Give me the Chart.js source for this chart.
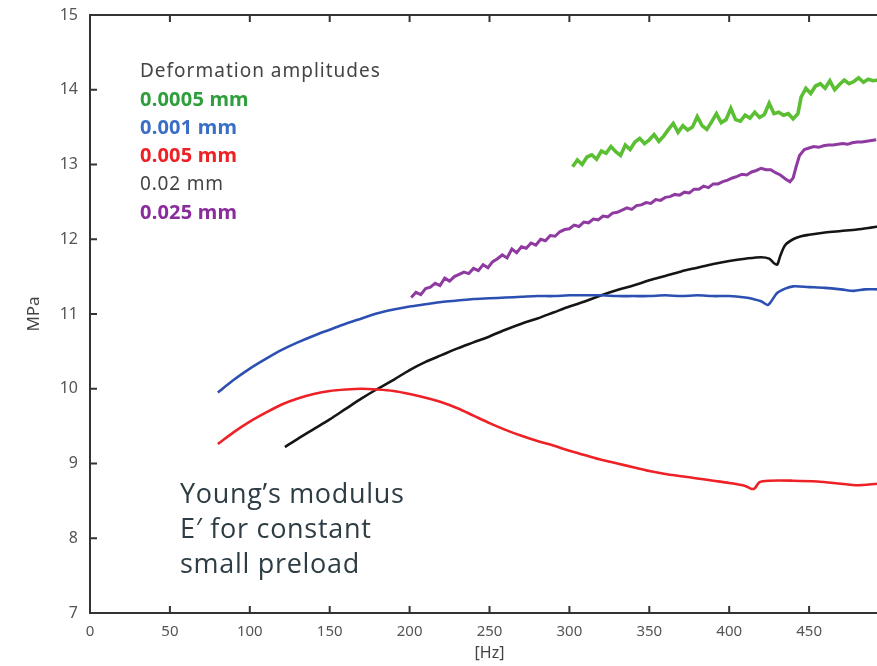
<!DOCTYPE html>
<html>
<head>
<meta charset="utf-8">
<title>Young's modulus vs frequency</title>
<script src="https://cdn.jsdelivr.net/npm/chart.js@4/dist/chart.umd.min.js"></script>
<style>
  html, body { margin: 0; padding: 0; background: #fff; overflow: hidden; }
</style>
</head>
<body>
<canvas id="modulusChart" width="920" height="666"></canvas>
<script>
// deformation amplitude 0.0005 mm
var freq0005 = [302, 305, 308, 311, 314, 317, 320, 323, 326, 329, 332, 335, 338, 341, 344, 347, 350, 353, 356, 359,
  362, 365, 368, 371, 374, 377, 380, 383, 386, 389, 392, 395, 398, 401, 404, 407, 410, 413, 416, 419,
  422, 425, 428, 431, 434, 437, 440, 443, 445, 448, 451, 454, 457, 460, 463, 466, 469, 472, 475, 478,
  481, 484, 487, 490, 493];
var mod0005 = [12.97, 13.06, 13.00, 13.10, 13.13, 13.07, 13.18, 13.15, 13.24, 13.17, 13.12, 13.26, 13.20, 13.30, 13.35, 13.28, 13.33, 13.40, 13.31, 13.38,
  13.47, 13.55, 13.43, 13.52, 13.46, 13.50, 13.64, 13.52, 13.47, 13.57, 13.68, 13.56, 13.60, 13.75, 13.60, 13.58, 13.66, 13.62, 13.70, 13.63,
  13.67, 13.82, 13.68, 13.70, 13.66, 13.68, 13.61, 13.68, 13.90, 14.02, 13.95, 14.05, 14.08, 14.02, 14.12, 14.00, 14.07, 14.13, 14.08, 14.11,
  14.16, 14.10, 14.14, 14.12, 14.13];

// 0.001 mm
var freq001 = [80, 90, 100, 110, 120, 130, 140, 150, 160, 170, 180, 190, 200, 210, 220, 230, 240, 250, 260, 270,
  280, 290, 300, 310, 320, 330, 340, 350, 360, 370, 380, 390, 400, 410, 415, 420, 424, 426, 430, 435,
  440, 450, 460, 470, 478, 485, 493];
var mod001 = [9.95, 10.12, 10.27, 10.40, 10.52, 10.62, 10.71, 10.79, 10.87, 10.94, 11.01, 11.06, 11.10, 11.13, 11.16, 11.18, 11.20, 11.21, 11.22, 11.23,
  11.24, 11.24, 11.25, 11.25, 11.25, 11.24, 11.24, 11.24, 11.25, 11.24, 11.25, 11.24, 11.24, 11.22, 11.20, 11.17, 11.12, 11.16, 11.28, 11.34,
  11.37, 11.36, 11.35, 11.33, 11.31, 11.33, 11.33];

// 0.005 mm
var freq005 = [80, 90, 100, 110, 120, 130, 140, 150, 160, 170, 180, 190, 200, 210, 220, 230, 240, 250, 260, 270,
  280, 290, 300, 310, 320, 330, 340, 350, 360, 370, 380, 390, 400, 410, 414, 416, 419, 425, 440, 455,
  470, 480, 493];
var mod005 = [9.26, 9.42, 9.56, 9.68, 9.79, 9.87, 9.93, 9.97, 9.99, 10.00, 9.99, 9.97, 9.93, 9.88, 9.82, 9.74, 9.64, 9.54, 9.45, 9.37,
  9.30, 9.24, 9.17, 9.11, 9.05, 9.00, 8.95, 8.90, 8.86, 8.83, 8.80, 8.77, 8.74, 8.70, 8.66, 8.67, 8.75, 8.77, 8.77, 8.76,
  8.73, 8.71, 8.73];

// 0.02 mm
var freq02 = [122, 130, 140, 150, 160, 170, 180, 190, 200, 210, 220, 230, 240, 250, 260, 270, 280, 290, 300, 310,
  320, 330, 340, 350, 360, 370, 380, 390, 400, 410, 420, 425, 428, 430, 432, 435, 440, 445, 450, 460,
  470, 480, 487, 493];
var mod02 = [9.22, 9.33, 9.46, 9.59, 9.73, 9.87, 10.00, 10.12, 10.25, 10.36, 10.45, 10.54, 10.62, 10.70, 10.79, 10.87, 10.94, 11.02, 11.10, 11.17,
  11.25, 11.32, 11.38, 11.45, 11.51, 11.57, 11.62, 11.67, 11.71, 11.74, 11.76, 11.74, 11.68, 11.66, 11.78, 11.92, 12.00, 12.04, 12.06, 12.09,
  12.11, 12.13, 12.15, 12.17];

// 0.025 mm
var freq025 = [201, 204, 207, 210, 213, 216, 219, 222, 225, 228, 231, 234, 237, 240, 243, 246, 249, 252, 255, 258,
  261, 264, 267, 270, 273, 276, 279, 282, 285, 288, 291, 294, 297, 300, 303, 306, 309, 312, 315, 318,
  321, 324, 327, 330, 333, 336, 339, 342, 345, 348, 351, 354, 357, 360, 363, 366, 369, 372, 375, 378,
  381, 384, 387, 390, 393, 396, 399, 402, 405, 408, 411, 414, 417, 420, 423, 426, 429, 432, 435, 438,
  440, 442, 444, 447, 450, 453, 456, 459, 462, 465, 468, 471, 474, 477, 480, 483, 486, 489, 492];
var mod025 = [11.22, 11.29, 11.26, 11.34, 11.36, 11.41, 11.38, 11.48, 11.44, 11.50, 11.53, 11.56, 11.54, 11.61, 11.58, 11.66, 11.62, 11.70, 11.74, 11.79,
  11.75, 11.87, 11.82, 11.90, 11.88, 11.95, 11.92, 12.00, 11.98, 12.05, 12.04, 12.10, 12.13, 12.14, 12.19, 12.17, 12.23, 12.22, 12.27, 12.26,
  12.31, 12.30, 12.35, 12.36, 12.39, 12.42, 12.40, 12.45, 12.46, 12.49, 12.48, 12.53, 12.52, 12.56, 12.57, 12.60, 12.59, 12.63, 12.62, 12.67,
  12.67, 12.71, 12.69, 12.74, 12.74, 12.77, 12.79, 12.82, 12.84, 12.87, 12.86, 12.90, 12.92, 12.95, 12.93, 12.93, 12.89, 12.86, 12.81, 12.77,
  12.82, 12.98, 13.12, 13.20, 13.22, 13.24, 13.23, 13.25, 13.26, 13.26, 13.27, 13.28, 13.27, 13.29, 13.30, 13.30, 13.31, 13.32, 13.33];

var amplitudeLabels = ['0.0005 mm', '0.001 mm', '0.005 mm', '0.02 mm', '0.025 mm'];
var lineColors = ['#5bbf33', '#2c4fb2', '#ee2226', '#151515', '#8e3aa0'];
var legendColors = ['#2f9e3c', '#3b6fc6', '#ee2226', '#444444', '#8a2c9c'];

var xTicks = [0, 50, 100, 150, 200, 250, 300, 350, 400, 450, 500];
var yTicks = [7, 8, 9, 10, 11, 12, 13, 14, 15];

function toPoints(xs, ys) {
  return xs.map(function (x, i) { return { x: x, y: ys[i] }; });
}

var allFreq = [freq0005, freq001, freq005, freq02, freq025];
var allMod = [mod0005, mod001, mod005, mod02, mod025];
var smooth = [false, true, true, true, false];
var widths = [3.6, 2.6, 2.6, 2.6, 3];

var datasets = amplitudeLabels.map(function (label, i) {
  return {
    label: label,
    data: toPoints(allFreq[i], allMod[i]),
    borderColor: lineColors[i],
    borderWidth: widths[i],
    pointRadius: 0,
    tension: smooth[i] ? 0.3 : 0,
    fill: false
  };
});

var axisFont = { family: "'Noto Sans', sans-serif", size: 15 };

// frame with inward tick marks, open on the right
var frameTicks = {
  id: 'frameTicks',
  afterDraw: function (chart) {
    var ctx = chart.ctx, a = chart.chartArea;
    var xs = chart.scales.x, ys = chart.scales.y;
    var len = 7;
    ctx.save();
    ctx.strokeStyle = '#333';
    ctx.lineWidth = 2;
    ctx.beginPath();
    ctx.moveTo(a.right + 20, a.top);
    ctx.lineTo(a.left, a.top);
    ctx.lineTo(a.left, a.bottom);
    ctx.lineTo(a.right + 20, a.bottom);
    ctx.stroke();
    ctx.beginPath();
    xTicks.forEach(function (v) {
      var px = xs.getPixelForValue(v);
      ctx.moveTo(px, a.bottom); ctx.lineTo(px, a.bottom - len);
      ctx.moveTo(px, a.top); ctx.lineTo(px, a.top + len);
    });
    yTicks.forEach(function (v) {
      var py = ys.getPixelForValue(v);
      ctx.moveTo(a.left, py); ctx.lineTo(a.left + len, py);
    });
    ctx.stroke();
    ctx.restore();
  }
};

// amplitude key and caption inside the plot
var notes = {
  id: 'notes',
  afterDraw: function (chart) {
    var ctx = chart.ctx;
    ctx.save();
    ctx.textBaseline = 'middle';
    ctx.textAlign = 'left';
    ctx.letterSpacing = '1px';
    ctx.font = "19px 'Noto Sans', sans-serif";
    ctx.fillStyle = '#444';
    ctx.fillText('Deformation amplitudes', 140, 72);
    chart.data.datasets.forEach(function (ds, i) {
      ctx.font = (i === 3 ? "19px" : "bold 20px") + " 'Noto Sans', sans-serif";
      ctx.letterSpacing = i === 3 ? '0.8px' : '0.2px';
      ctx.fillStyle = legendColors[i];
      ctx.fillText(ds.label, 140, 100 + i * 28.3);
    });
    ctx.letterSpacing = '0.7px';
    ctx.font = "27px 'Open Sans', sans-serif";
    ctx.fillStyle = '#2e3c44';
    ['Young\u2019s modulus', 'E\u2032 for constant', 'small preload'].forEach(function (t, i) {
      ctx.fillText(t, 180, 495 + i * 35);
    });
    ctx.restore();
  }
};

new Chart(document.getElementById('modulusChart'), {
  type: 'line',
  data: { datasets: datasets },
  options: {
    responsive: false,
    animation: false,
    layout: { padding: { top: 15, right: 31, left: 0, bottom: 0 } },
    plugins: {
      legend: { display: false },
      tooltip: { enabled: false }
    },
    scales: {
      x: {
        type: 'linear',
        min: 0,
        max: 500,
        afterFit: function (s) { s.height = 53; },
        afterBuildTicks: function (s) { s.ticks = xTicks.map(function (v) { return { value: v }; }); },
        grid: { display: false, drawTicks: true, tickLength: 10 },
        border: { display: false },
        ticks: { color: '#555', font: axisFont, padding: 0, maxRotation: 0 },
        title: { display: true, text: '[Hz]', color: '#444', font: { family: "'Noto Sans', sans-serif", size: 16 }, padding: { top: 0, bottom: 3 } }
      },
      y: {
        type: 'linear',
        min: 7,
        max: 15,
        afterFit: function (s) { s.width = 90; },
        afterBuildTicks: function (s) { s.ticks = yTicks.map(function (v) { return { value: v }; }); },
        grid: { display: false, drawTicks: true, tickLength: 12 },
        border: { display: false },
        ticks: { color: '#555', font: { family: "'Noto Sans', sans-serif", size: 16 }, padding: 0 },
        title: { display: true, text: 'MPa', color: '#444', font: { family: "'Noto Sans', sans-serif", size: 17 }, padding: { top: 24, bottom: 0 } }
      }
    }
  },
  plugins: [frameTicks, notes]
});
</script>
</body>
</html>
